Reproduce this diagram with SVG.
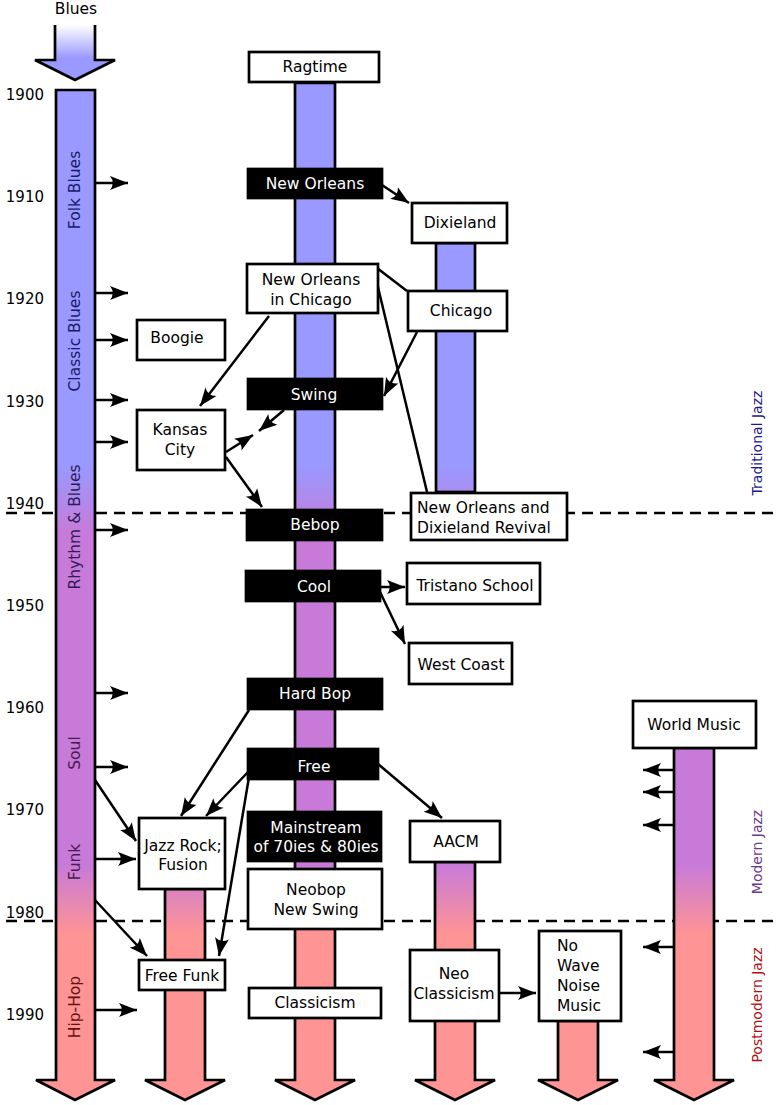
<svg xmlns="http://www.w3.org/2000/svg" width="783" height="1105" viewBox="0 0 783 1105">
<style>
text{font-family:"DejaVu Sans","Liberation Sans",sans-serif;font-size:15.5px;fill:#000}
.m{text-anchor:middle}
.wt{fill:#fff}
.yr{font-size:15px;text-anchor:end}
.side{font-size:14px;text-anchor:middle}
.w{fill:#fff;stroke:#000;stroke-width:2.7}
.b{fill:#000;stroke:#000;stroke-width:2.7}
.bar{fill:url(#era);stroke:#000;stroke-width:2.7;stroke-linejoin:miter}
.dash{stroke:#000;stroke-width:2.5;stroke-dasharray:11,7;fill:none}
#connectors line{stroke:#000;stroke-width:2.5}
.arr{marker-end:url(#ah)}
</style>
<defs>
<linearGradient id="era" gradientUnits="userSpaceOnUse" x1="0" y1="0" x2="0" y2="1105">
<stop offset="0" stop-color="#9999ff"/>
<stop offset="0.421" stop-color="#9999ff"/>
<stop offset="0.484" stop-color="#c87ad8"/>
<stop offset="0.783" stop-color="#c87ad8"/>
<stop offset="0.846" stop-color="#ff9494"/>
<stop offset="1" stop-color="#ff9494"/>
</linearGradient>
<linearGradient id="top" gradientUnits="userSpaceOnUse" x1="0" y1="25" x2="0" y2="58">
<stop offset="0" stop-color="#fff"/>
<stop offset="1" stop-color="#9999ff"/>
</linearGradient>
<marker id="ah" markerUnits="userSpaceOnUse" markerWidth="22" markerHeight="18" viewBox="0 0 22 18" refX="19" refY="9" orient="auto">
<path d="M19,9 L1,2 Q6.5,9 1,16 Z" fill="#000"/>
</marker>
</defs>

<g id="timeline">
<text class="yr" x="44" y="100">1900</text>
<text class="yr" x="44" y="202">1910</text>
<text class="yr" x="44" y="304">1920</text>
<text class="yr" x="44" y="407">1930</text>
<text class="yr" x="44" y="509">1940</text>
<text class="yr" x="44" y="611">1950</text>
<text class="yr" x="44" y="713">1960</text>
<text class="yr" x="44" y="815">1970</text>
<text class="yr" x="44" y="918">1980</text>
<text class="yr" x="44" y="1020">1990</text>
<line class="dash" x1="6" y1="513" x2="774" y2="513"/>
<line class="dash" x1="6" y1="921" x2="774" y2="921"/>
<text class="side" transform="translate(762,443) rotate(-90)" style="fill:#1a1a8c">Traditional Jazz</text>
<text class="side" transform="translate(762,852) rotate(-90)" style="fill:#6a3a8a">Modern Jazz</text>
<text class="side" transform="translate(762,1005) rotate(-90)" style="fill:#b01010">Postmodern Jazz</text>
</g>

<g id="blues-top">
<path d="M55,25 L55,60 L35,60 L75,80 L115,60 L95,60 L95,25" fill="url(#top)" stroke="#000" stroke-width="2.7"/>
<text class="m" x="76" y="14">Blues</text>
</g>

<g id="blues-column">
<path class="bar" d="M56,90 L95,90 L95,1080 L115,1080 L75,1100 L36,1080 L56,1080 Z"/>
<text class="m" transform="translate(80,190) rotate(-90)" style="fill:#1a1a66">Folk Blues</text>
<text class="m" transform="translate(80,341) rotate(-90)" style="fill:#1a1a66">Classic Blues</text>
<text class="m" transform="translate(80,527) rotate(-90)" style="fill:#2e1a5a">Rhythm &amp; Blues</text>
<text class="m" transform="translate(80,753) rotate(-90)" style="fill:#4a1a55">Soul</text>
<text class="m" transform="translate(80,862) rotate(-90)" style="fill:#4a1a55">Funk</text>
<text class="m" transform="translate(80,1007) rotate(-90)" style="fill:#661111">Hip-Hop</text>
</g>

<g id="main-column"><path class="bar" d="M295,83 L335,83 L335,1080 L355,1080 L315,1100 L275,1080 L295,1080 Z"/></g>
<g id="dixieland-column"><rect class="bar" x="436" y="243" width="39" height="249"/></g>
<g id="jazzrock-column"><path class="bar" d="M165,889 L205,889 L205,1080 L225,1080 L185,1100 L145,1080 L165,1080 Z"/></g>
<g id="aacm-column"><path class="bar" d="M435,862 L475,862 L475,1080 L495,1080 L455,1100 L415,1080 L435,1080 Z"/></g>
<g id="nowave-column"><path class="bar" d="M558,1021 L598,1021 L598,1080 L618,1080 L578,1100 L538,1080 L558,1080 Z"/></g>
<g id="world-column"><path class="bar" d="M674,748 L714,748 L714,1080 L734,1080 L694,1100 L654,1080 L674,1080 Z"/></g>

<g id="connectors">
<line class="arr" x1="382" y1="185" x2="409" y2="203"/>
<line x1="377" y1="268" x2="407" y2="291"/>
<line x1="377" y1="283" x2="427" y2="492"/>
<line class="arr" x1="417" y1="332" x2="384" y2="396"/>
<line class="arr" x1="269" y1="316" x2="200" y2="406"/>
<line class="arr" x1="284" y1="410" x2="259" y2="431"/>
<line class="arr" x1="226" y1="452" x2="253" y2="435"/>
<line class="arr" x1="226" y1="457" x2="262" y2="507"/>
<line class="arr" x1="380" y1="587" x2="405" y2="587"/>
<line class="arr" x1="380" y1="592" x2="405" y2="644"/>
<line class="arr" x1="249" y1="710" x2="181" y2="816"/>
<line class="arr" x1="249" y1="771" x2="206" y2="816"/>
<line class="arr" x1="249" y1="777" x2="219" y2="956"/>
<line class="arr" x1="378" y1="764" x2="442" y2="818"/>
<line class="arr" x1="499" y1="993" x2="536" y2="993"/>
<line class="arr" x1="95" y1="183" x2="128" y2="183"/>
<line class="arr" x1="95" y1="293" x2="128" y2="293"/>
<line class="arr" x1="95" y1="340" x2="128" y2="340"/>
<line class="arr" x1="95" y1="400" x2="128" y2="400"/>
<line class="arr" x1="95" y1="442" x2="128" y2="442"/>
<line class="arr" x1="95" y1="530" x2="128" y2="530"/>
<line class="arr" x1="95" y1="693" x2="128" y2="693"/>
<line class="arr" x1="95" y1="767" x2="128" y2="767"/>
<line class="arr" x1="95" y1="1010" x2="137" y2="1010"/>
<line class="arr" x1="95" y1="780" x2="136" y2="841"/>
<line class="arr" x1="95" y1="859" x2="136" y2="859"/>
<line class="arr" x1="95" y1="900" x2="147" y2="956"/>
<line class="arr" x1="674" y1="770" x2="643" y2="770"/>
<line class="arr" x1="674" y1="792" x2="643" y2="792"/>
<line class="arr" x1="674" y1="825" x2="643" y2="825"/>
<line class="arr" x1="674" y1="947" x2="643" y2="947"/>
<line class="arr" x1="674" y1="1052" x2="643" y2="1052"/>
</g>

<g id="ragtime"><rect class="w" x="249" y="52" width="130" height="30"/><text class="m" x="315" y="72">Ragtime</text></g>
<g id="new-orleans"><rect class="b" x="248" y="169" width="134" height="29"/><text class="m wt" x="315" y="189">New Orleans</text></g>
<g id="dixieland"><rect class="w" x="412" y="203" width="95" height="40"/><text class="m" x="460" y="228">Dixieland</text></g>
<g id="new-orleans-chicago"><rect class="w" x="247" y="264" width="131" height="49"/><text class="m" x="311" y="285">New Orleans</text><text class="m" x="311" y="305">in Chicago</text></g>
<g id="chicago"><rect class="w" x="408" y="291" width="99" height="40"/><text class="m" x="461" y="316">Chicago</text></g>
<g id="boogie"><rect class="w" x="137" y="320" width="88" height="40"/><text class="m" x="177" y="343">Boogie</text></g>
<g id="swing"><rect class="b" x="248" y="379" width="134" height="30"/><text class="m wt" x="314" y="400">Swing</text></g>
<g id="kansas-city"><rect class="w" x="137" y="410" width="88" height="60"/><text class="m" x="180" y="435">Kansas</text><text class="m" x="180" y="455">City</text></g>
<g id="bebop"><rect class="b" x="247" y="510" width="135" height="30"/><text class="m wt" x="315" y="530">Bebop</text></g>
<g id="revival"><rect class="w" x="411" y="493" width="156" height="47"/><text x="417" y="513">New Orleans and</text><text x="417" y="533">Dixieland Revival</text></g>
<g id="cool"><rect class="b" x="246" y="571" width="134" height="30"/><text class="m wt" x="314" y="592">Cool</text></g>
<g id="tristano"><rect class="w" x="407" y="563" width="133" height="41"/><text class="m" x="475" y="591">Tristano School</text></g>
<g id="west-coast"><rect class="w" x="409" y="643" width="103" height="41"/><text class="m" x="461" y="670">West Coast</text></g>
<g id="world-music"><rect class="w" x="633" y="701" width="123" height="47"/><text class="m" x="694" y="730">World Music</text></g>
<g id="hard-bop"><rect class="b" x="248" y="679" width="134" height="30"/><text class="m wt" x="315" y="699">Hard Bop</text></g>
<g id="free"><rect class="b" x="248" y="749" width="130" height="30"/><text class="m wt" x="314" y="772">Free</text></g>
<g id="mainstream"><rect class="b" x="248" y="812" width="133" height="49"/><text class="m wt" x="316" y="833">Mainstream</text><text class="m wt" x="316" y="852">of 70ies &amp; 80ies</text></g>
<g id="neobop"><rect class="w" x="248" y="869" width="134" height="60"/><text class="m" x="316" y="895">Neobop</text><text class="m" x="316" y="915">New Swing</text></g>
<g id="aacm"><rect class="w" x="410" y="821" width="90" height="41"/><text class="m" x="456" y="847">AACM</text></g>
<g id="jazz-rock"><rect class="w" x="139" y="818" width="86" height="71"/><text class="m" x="183" y="851">Jazz Rock;</text><text class="m" x="183" y="870">Fusion</text></g>
<g id="free-funk"><rect class="w" x="139" y="960" width="86" height="30"/><text class="m" x="182" y="981">Free Funk</text></g>
<g id="classicism"><rect class="w" x="249" y="988" width="132" height="30"/><text class="m" x="315" y="1008">Classicism</text></g>
<g id="neo-classicism"><rect class="w" x="410" y="950" width="89" height="71"/><text class="m" x="454" y="979">Neo</text><text class="m" x="454" y="999">Classicism</text></g>
<g id="no-wave"><rect class="w" x="539" y="931" width="82" height="90"/><text x="557" y="951">No</text><text x="557" y="971">Wave</text><text x="557" y="991">Noise</text><text x="557" y="1011">Music</text></g>
</svg>
